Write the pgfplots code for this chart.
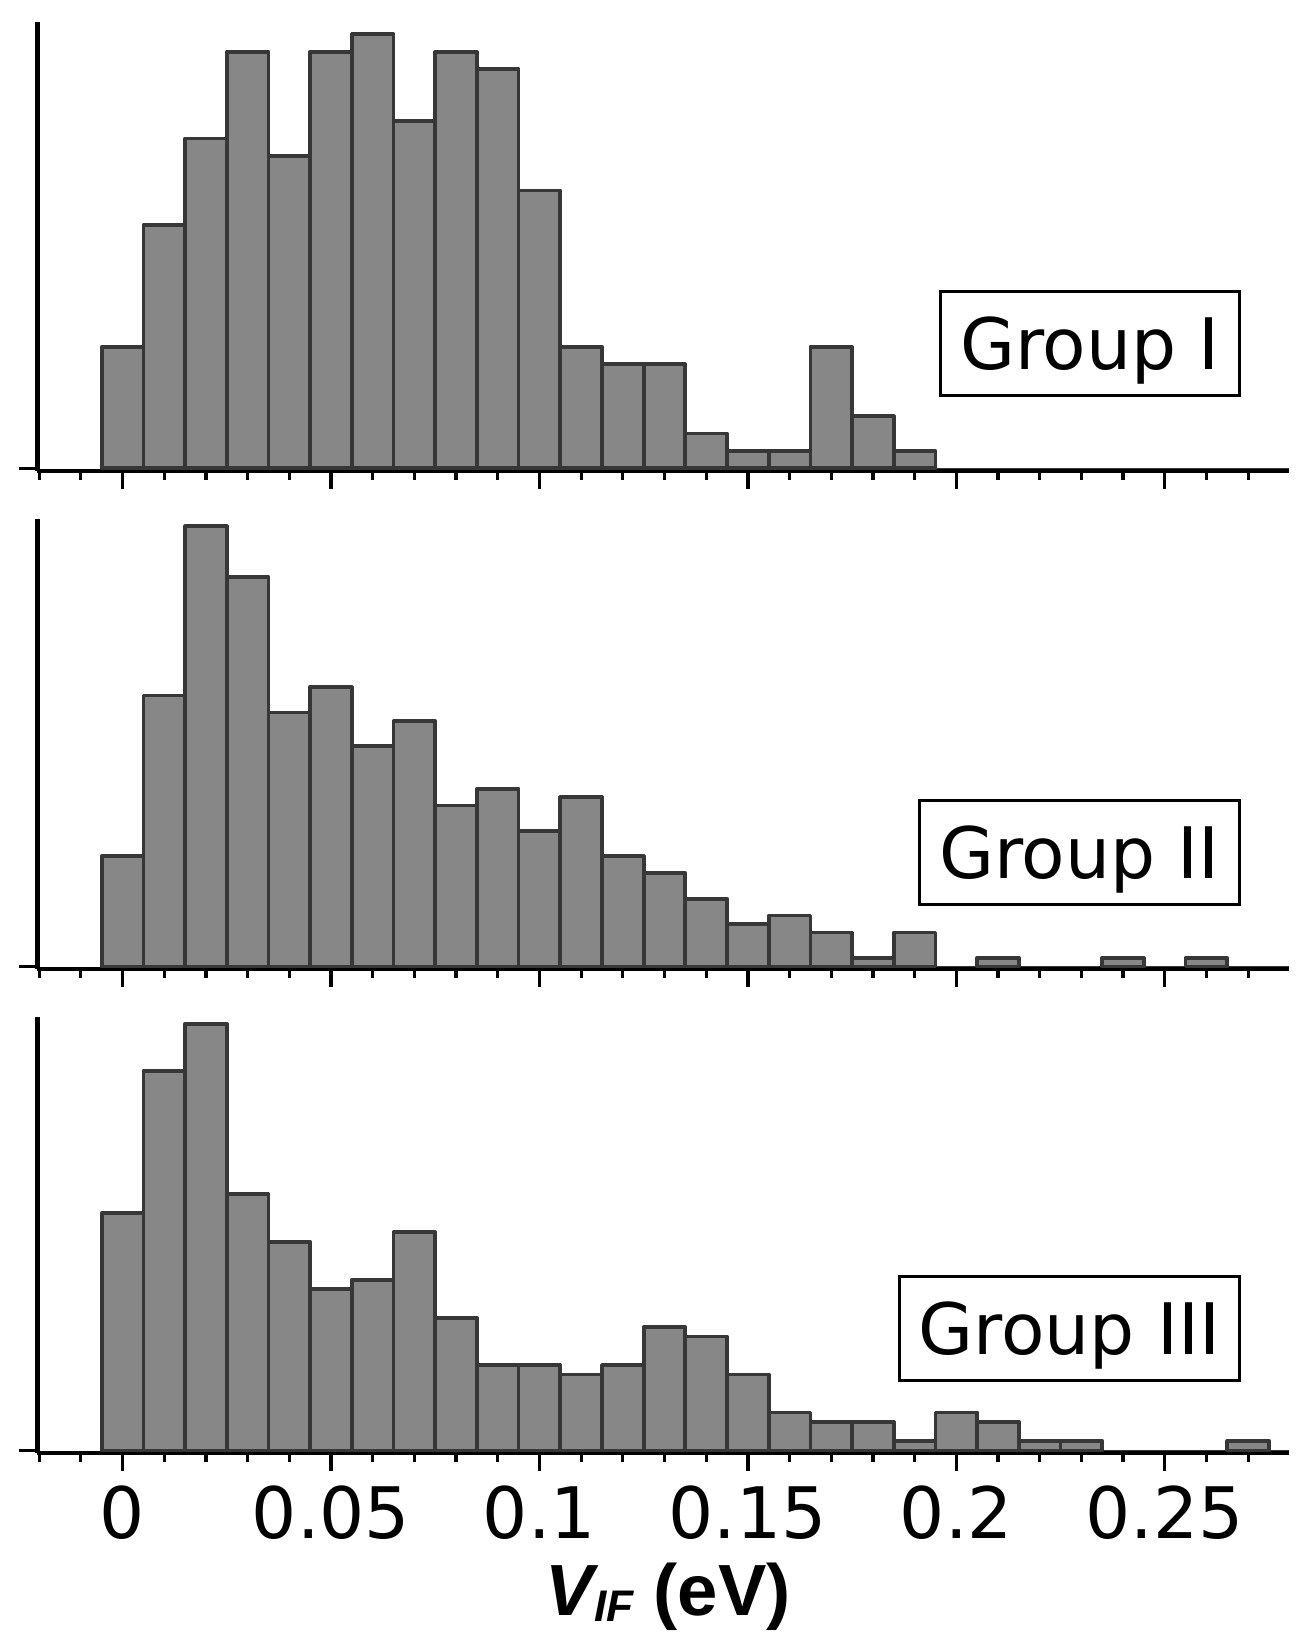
\documentclass[border=0pt]{standalone}
\usepackage{pgfplots}
\pgfplotsset{compat=1.18}
\usepackage{fontspec}
\setmainfont{DejaVu Sans}
\newfontfamily\labfont{Liberation Sans}
\definecolor{barfill}{RGB}{135,135,135}
\definecolor{baredge}{RGB}{55,55,55}
\newcommand{\bigfont}{\fontsize{28.4pt}{34pt}\selectfont}

\pgfplotsset{
  panel/.style={
    scale only axis, width=500.6pt,
    xmin=-0.0204, xmax=0.2798,
    axis x line=bottom, axis y line=left,
    axis line style={-, line width=1.6pt, black},
    xtick={0,0.05,0.1,0.15,0.2,0.25},
    minor xtick={-0.02,-0.01,0.01,0.02,0.03,0.04,0.06,0.07,0.08,0.09,0.11,0.12,0.13,0.14,0.16,0.17,0.18,0.19,0.21,0.22,0.23,0.24,0.26,0.27},
    ytick={0}, yticklabels={},
    tick align=outside,
    major tick length=7.2pt, minor tick length=3.6pt,
    tick style={line width=1.3pt, black},
    scaled x ticks=false,
    /pgf/number format/assume math mode=true,
  },
  hbar/.style={ybar, bar width=0.01, bar shift=0pt, fill=barfill, draw=baredge, line width=1.5pt, line join=round},
  zline/.style={draw=baredge, line width=0.6pt},
}
\tikzset{grp/.style={draw=black, line width=1.2pt, inner sep=0pt, font=\bigfont, text depth=0pt, anchor=east}}

\begin{document}
\begin{tikzpicture}
% Group I
\begin{axis}[panel, at={(0pt,465.3pt)}, anchor=south west, height=179.5pt,
  ymin=-0.138, ymax=25.71, xticklabels={}]
\addplot[zline] coordinates {(-0.005,0) (0.2798,0)};
\addplot[hbar] coordinates {
(0,7) (0.01,14) (0.02,19) (0.03,24) (0.04,18) (0.05,24) (0.06,25) (0.07,20) (0.08,24) (0.09,23)
(0.10,16) (0.11,7) (0.12,6) (0.13,6) (0.14,2) (0.15,1) (0.16,1) (0.17,7) (0.18,3) (0.19,1)};
\node[grp, minimum width=119.6pt, minimum height=41.6pt] at (rel axis cs:0.9617,0.2846) {Group I};
\end{axis}
% Group II
\begin{axis}[panel, at={(0pt,266.1pt)}, anchor=south west, height=179.8pt,
  ymin=-0.28, ymax=52.84, xticklabels={}]
\addplot[zline] coordinates {(-0.005,0) (0.2798,0)};
\addplot[hbar] coordinates {
(0,13) (0.01,32) (0.02,52) (0.03,46) (0.04,30) (0.05,33) (0.06,26) (0.07,29) (0.08,19) (0.09,21)
(0.10,16) (0.11,20) (0.12,13) (0.13,11) (0.14,8) (0.15,5) (0.16,6) (0.17,4) (0.18,1) (0.19,4)
(0.21,1) (0.24,1) (0.26,1)};
\node[grp, minimum width=128pt, minimum height=41.6pt] at (rel axis cs:0.9617,0.2597) {Group II};
\end{axis}
% Group III
\begin{axis}[panel, at={(0pt,72.5pt)}, anchor=south west, height=174.2pt,
  ymin=-0.25, ymax=45.68,
  xticklabels={0,0.05,0.1,0.15,0.2,0.25},
  xticklabel style={font=\bigfont, anchor=base, yshift=-27pt},
  xlabel={\labfont\bfseries\itshape V\raisebox{-2.7pt}{\fontsize{17.7pt}{18pt}\selectfont IF}\upshape\ (eV)},
  xlabel style={font=\fontsize{29pt}{34pt}\selectfont, at={(axis description cs:0.5,0)}, anchor=base, yshift=-64.9pt, xshift=2pt},
]
\addplot[zline] coordinates {(-0.005,0) (0.2798,0)};
\addplot[hbar] coordinates {
(0,25) (0.01,40) (0.02,45) (0.03,27) (0.04,22) (0.05,17) (0.06,18) (0.07,23) (0.08,14) (0.09,9)
(0.10,9) (0.11,8) (0.12,9) (0.13,13) (0.14,12) (0.15,8) (0.16,4) (0.17,3) (0.18,3) (0.19,1)
(0.20,4) (0.21,3) (0.22,1) (0.23,1) (0.27,1)};
\node[grp, minimum width=136pt, minimum height=41.6pt] at (rel axis cs:0.9617,0.2864) {Group III};
\end{axis}
\pgfresetboundingbox
\path[use as bounding box] (-15pt,0pt) rectangle (506.2pt,653.6pt);
\end{tikzpicture}
\end{document}
